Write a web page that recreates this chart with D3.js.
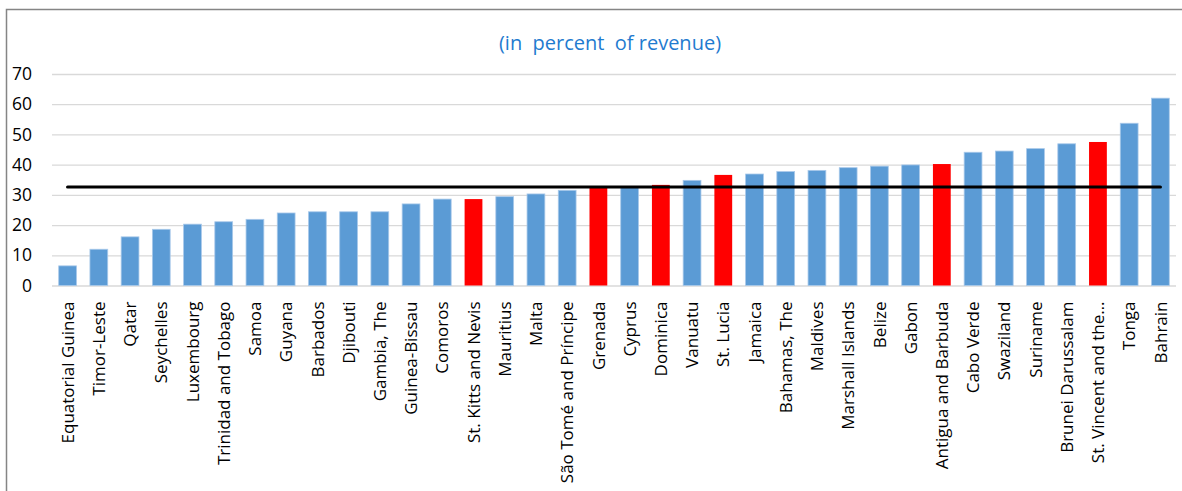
<!DOCTYPE html>
<html>
<head>
<meta charset="utf-8">
<script src="https://cdn.jsdelivr.net/npm/d3@7"></script>
<style>
  html, body { margin: 0; padding: 0; background: #fff; }
  svg { display: block; font-family: "Open Sans", "Noto Sans", sans-serif; }
</style>
</head>
<body>
<svg id="chart" width="1182" height="491"></svg>
<script>
// Countries, sorted by value
const countries = [
  "Equatorial Guinea", "Timor-Leste", "Qatar", "Seychelles", "Luxembourg",
  "Trinidad and Tobago", "Samoa", "Guyana", "Barbados", "Djibouti",
  "Gambia, The", "Guinea-Bissau", "Comoros", "St. Kitts and Nevis", "Mauritius",
  "Malta", "São Tomé and Príncipe", "Grenada", "Cyprus", "Dominica",
  "Vanuatu", "St. Lucia", "Jamaica", "Bahamas, The", "Maldives",
  "Marshall Islands", "Belize", "Gabon", "Antigua and Barbuda", "Cabo Verde",
  "Swaziland", "Suriname", "Brunei Darussalam", "St. Vincent and the…", "Tonga",
  "Bahrain"
];

// Percent of revenue
const values = [
  6.5, 12.0, 16.1, 18.6, 20.3,
  21.1, 21.9, 24.0, 24.4, 24.4,
  24.4, 27.0, 28.6, 28.6, 29.4,
  30.3, 31.5, 32.3, 32.6, 33.3,
  34.8, 36.6, 36.9, 37.7, 38.1,
  39.0, 39.5, 39.9, 40.2, 44.1,
  44.5, 45.3, 46.9, 47.5, 53.7,
  62.0
];

// Countries shown in red
const highlighted = [
  "St. Kitts and Nevis", "Grenada", "Dominica", "St. Lucia",
  "Antigua and Barbuda", "St. Vincent and the…"
];

// Reference level drawn across the bars
const average = 32.6;

const yTicks = [0, 10, 20, 30, 40, 50, 60, 70];
const title = "(in  percent  of revenue)";

const svg = d3.select("#chart");
const margin = { left: 52, right: 6, top: 74, bottom: 205 };
const W = 1182, H = 491;

const x = d3.scaleBand()
  .domain(countries)
  .range([margin.left, W - margin.right])
  .paddingInner(0.43)
  .paddingOuter(0.215);

const y = d3.scaleLinear()
  .domain([0, 70])
  .range([285.5, 74]);

// outer frame
svg.append("rect")
  .attr("x", 6.5).attr("y", 9.5)
  .attr("width", W + 20).attr("height", H + 20)
  .attr("fill", "none")
  .attr("stroke", "#858585")
  .attr("stroke-width", 1.5);

// title
svg.append("text")
  .attr("x", 610).attr("y", 50)
  .attr("text-anchor", "middle")
  .attr("fill", "#1F7BCF")
  .style("font-size", "20px")
  .style("white-space", "pre")
  .attr("xml:space", "preserve")
  .text(title);

// gridlines + y labels
const yAxis = d3.axisLeft(y)
  .tickValues(yTicks)
  .tickSize(-(W - margin.right - margin.left))
  .tickPadding(20);

const gy = svg.append("g")
  .attr("transform", `translate(${margin.left},0)`)
  .call(yAxis);
gy.select(".domain").remove();
gy.selectAll(".tick line")
  .attr("stroke", "#D9D9D9")
  .attr("stroke-width", 1.3);
gy.selectAll(".tick text")
  .attr("fill", "#000")
  .style("font-family", "'Open Sans', 'Noto Sans', sans-serif")
  .style("font-size", "17.5px");

// bars
svg.append("g")
  .selectAll("rect")
  .data(countries.map((c, i) => ({ c, v: values[i] })))
  .join("rect")
  .attr("x", d => x(d.c))
  .attr("width", x.bandwidth())
  .attr("y", d => y(d.v))
  .attr("height", d => y(0) - y(d.v))
  .attr("fill", d => highlighted.includes(d.c) ? "#FF0000" : "#5B9BD5")
  .attr("stroke", d => highlighted.includes(d.c) ? "none" : "#A9C9EA")
  .attr("stroke-width", 0.8);

// reference line
const line = d3.line()
  .x(d => x(d) + x.bandwidth() / 2)
  .y(() => y(average));
svg.append("path")
  .datum(countries)
  .attr("d", line)
  .attr("fill", "none")
  .attr("stroke", "#000")
  .attr("stroke-width", 3.2)
  .attr("stroke-linecap", "round");

// category labels
const xAxis = d3.axisBottom(x).tickSize(0).tickPadding(0);
const gx = svg.append("g")
  .attr("transform", `translate(0,${y(0)})`)
  .call(xAxis);
gx.select(".domain").remove();
gx.selectAll(".tick text")
  .attr("fill", "#000")
  .style("font-family", "'Open Sans', 'Noto Sans', sans-serif")
  .style("font-size", "17px")
  .attr("text-anchor", "end")
  .attr("transform", "rotate(-90)")
  .attr("x", -16)
  .attr("y", 0)
  .attr("dy", "0.36em");
</script>
</body>
</html>
